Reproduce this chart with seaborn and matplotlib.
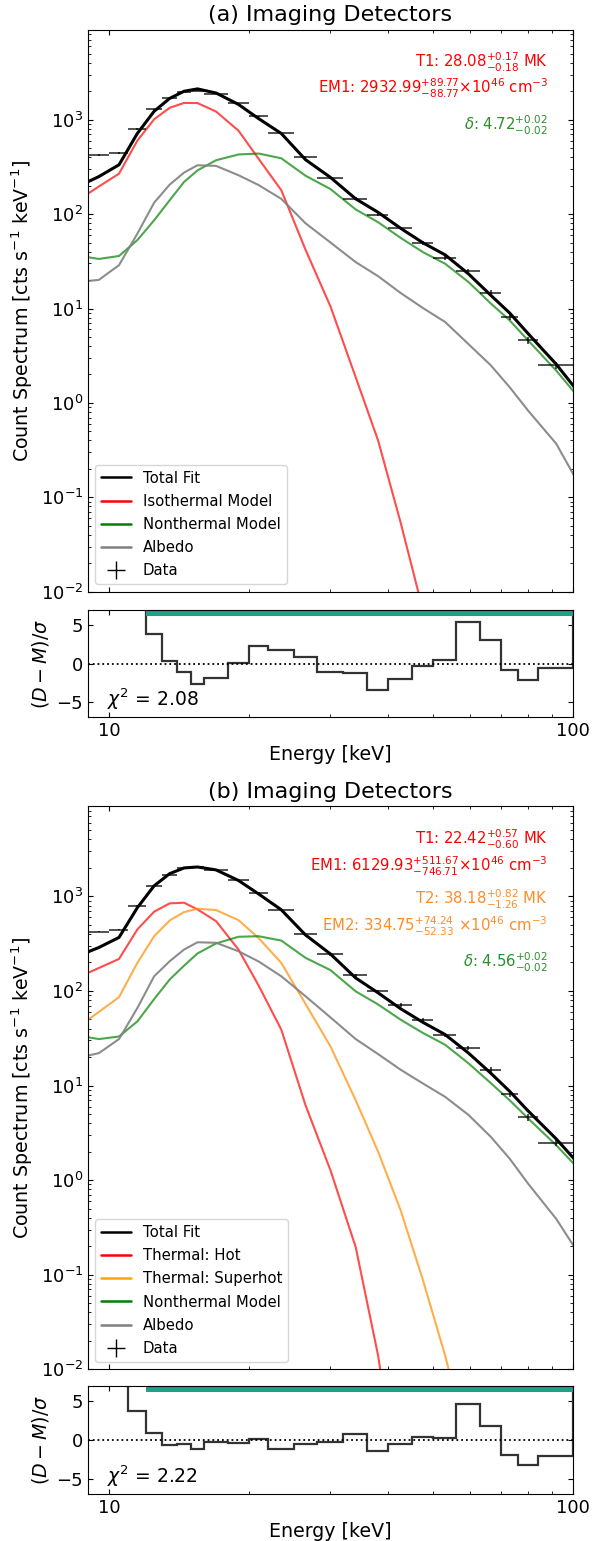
import numpy as np
import matplotlib
matplotlib.use("Agg")
import matplotlib.pyplot as plt
from matplotlib.lines import Line2D
from matplotlib.ticker import FixedLocator, FuncFormatter, NullFormatter, LogLocator
import seaborn as sns

sns.set_style("ticks")
plt.rcParams['font.family'] = ['DejaVu Sans']
plt.rcParams['xtick.direction'] = 'in'
plt.rcParams['ytick.direction'] = 'in'
plt.rcParams['xtick.top'] = True
plt.rcParams['ytick.right'] = True
plt.rcParams['mathtext.fontset'] = 'dejavusans'
for key in ['text.color', 'axes.labelcolor', 'axes.edgecolor', 'xtick.color', 'ytick.color']:
    plt.rcParams[key] = 'black'

# ---- data: STIX energy bins (keV) and observed count spectrum
edges = [9, 10, 11, 12, 13, 14, 15, 16, 18, 20, 22, 25, 28, 32, 36, 40, 45, 50, 56, 63, 70, 76, 84, 100]
counts = [425, 446, 798, 1284, 1700, 1975, 2030, 1880, 1495, 1090, 725, 400, 243, 146, 99, 71, 49.5, 34.3, 24.8, 14.7, 8.1, 4.6, 2.5]
count_err = [9, 9, 12, 16, 19, 21, 22, 20, 17, 14, 11, 8, 6, 4.5, 3.5, 2.8, 2.2, 1.7, 1.3, 0.9, 0.6, 0.35, 0.2]

# ---- model curves, evaluated at bin centres
e_model = [8.5, 9.5, 10.5, 11.5, 12.5, 13.5, 14.5, 15.5, 17, 19, 21, 23.5, 26.5, 30, 34, 38,
           42.5, 47.5, 53, 59.5, 66.5, 73, 80, 92, 110]

# panel (a)
iso_a = [137, 196, 268, 600, 1010, 1335, 1505, 1500, 1220, 765, 385, 179, 42, 10.5, 1.87, 0.40,
         0.054, 0.0063, 5e-4, 3e-5, 1.5e-6, 8e-8, 3e-9, 1e-11, 1e-15]
nth_a = [36.5, 33.5, 36, 53, 86, 140, 219, 290, 372, 428, 438, 390, 255, 184, 112, 82,
         56, 39.5, 29.8, 19.1, 11.3, 7.5, 4.6, 2.2, 0.77]
alb_a = [19, 20.1, 28.8, 62, 132, 205, 275, 329, 324, 258, 203, 145, 80, 50, 31, 22,
         14.6, 10.1, 7.2, 4.2, 2.5, 1.47, 0.83, 0.37, 0.077]
tot_a = [192.5, 249.6, 332.8, 715, 1228, 1680, 1999, 2119, 1916, 1451, 1026, 714, 377, 244.5, 145, 104.4,
         70.7, 49.6, 37, 23.3, 13.8, 8.97, 5.43, 2.57, 0.85]
res_a = [15, 15, 15, 3.9, 0.35, -1.05, -2.7, -1.9, 0.05, 2.3, 1.75, 0.8, -1.05, -1.3, -3.4, -2.0,
         -0.3, 0.45, 5.4, 3.07, -0.88, -2.2, -0.53]

# panel (b)
hot_b = [137, 175, 218, 447, 689, 843, 857, 728, 547, 274, 114, 39, 6.2, 1.27, 0.196, 0.014,
         4e-4, 8e-6, 1e-7, 5e-10, 1e-12, 3e-15, 1e-17, 1e-21, 1e-27]
sup_b = [40.5, 60, 86, 198, 379, 556, 682, 740, 716, 561, 362, 198, 73, 25.9, 7.0, 2.0,
         0.48, 0.087, 0.014, 0.0015, 1e-4, 6e-6, 2e-7, 1e-9, 1e-13]
nth_b = [34, 31, 33, 47.6, 82, 132, 185, 249, 318, 374, 379, 341, 224, 166, 99, 72,
         49.7, 35.9, 27, 17.2, 10.6, 7.0, 4.5, 2.34, 0.93]
alb_b = [19.5, 22, 31, 66, 143, 206, 274, 327, 323, 263, 205, 143, 88, 52.5, 31, 21.5,
         14.7, 10.5, 7.6, 4.9, 2.87, 1.69, 0.92, 0.39, 0.10]
tot_b = [231, 288, 368, 759, 1293, 1737, 1998, 2044, 1904, 1472, 1060, 721, 391, 245.7, 137.2, 95.5,
         64.9, 46.5, 34.6, 22.1, 13.5, 8.7, 5.4, 2.73, 1.03]
res_b = [15, 15, 3.7, 0.96, -0.7, -0.48, -1.13, -0.26, -0.35, 0.13, -1.17, -0.57, -0.3, 0.78, -1.39, -0.57,
         0.39, 0.26, 4.6, 1.87, -2.0, -3.26, -2.04]

fit_range = [12, 100]

lo = np.array(edges[:-1], dtype=float)
hi = np.array(edges[1:], dtype=float)
centres = (lo + hi) / 2
xerr = [centres - lo, hi - centres]


def draw_panel(ax, axr, title, comps, total, res, notes, chi2):
    for label, vals, col, lcol, a in comps:
        sns.lineplot(x=e_model, y=vals, ax=ax, color=col, alpha=a, lw=1.5)
    sns.lineplot(x=e_model, y=total, ax=ax, color='black', lw=2.2)
    ax.errorbar(centres, counts, xerr=xerr, yerr=count_err, fmt='none',
                ecolor='black', elinewidth=1.2, alpha=0.8)
    ax.set_xscale('log')
    ax.set_yscale('log')
    ax.set_xlim(9, 100)
    ax.set_ylim(1e-2, 9000)
    ax.set_title(title, fontsize=16)
    ax.set_ylabel('Count Spectrum [cts s$^{-1}$ keV$^{-1}$]', fontsize=13.7)
    ax.xaxis.set_major_formatter(NullFormatter())
    ax.xaxis.set_minor_formatter(NullFormatter())
    ax.yaxis.set_major_locator(LogLocator(base=10, numticks=10))
    ax.yaxis.set_minor_locator(LogLocator(base=10, subs=np.arange(2, 10), numticks=20))
    ax.tick_params(which='both', labelsize=13, top=True, right=True)

    handles = [Line2D([], [], color='black', lw=1.8, label='Total Fit')]
    for label, vals, col, lcol, a in comps:
        handles.append(Line2D([], [], color=lcol, lw=1.8, label=label))
    handles.append(Line2D([], [], color='black', marker='+', ls='none', markersize=13, label='Data'))
    ax.legend(handles=handles, loc='lower left', fontsize=10.7, labelspacing=0.55)

    for y, txt, col in notes:
        ax.text(0.948, y, txt, transform=ax.transAxes, ha='right', va='center', color=col, fontsize=10.7)

    # residuals
    axr.stairs(res + [15], edges + [120], baseline=None, color='#333333', lw=1.6)
    axr.fill_between(fit_range, 6.2, 7.2, color='#1fa187', lw=0)
    axr.axhline(0, color='black', ls=':', lw=1.3)
    axr.set_xscale('log')
    axr.set_xlim(9, 100)
    axr.set_ylim(-7, 7)
    axr.set_yticks([-5, 0, 5])
    axr.xaxis.set_major_locator(FixedLocator([10, 100]))
    axr.xaxis.set_major_formatter(FuncFormatter(lambda v, p: '%d' % v))
    axr.xaxis.set_minor_formatter(NullFormatter())
    axr.tick_params(which='both', labelsize=13, top=True, right=True)
    axr.set_ylabel(r'$(D-M)/\sigma$', fontsize=13.7)
    axr.set_xlabel('Energy [keV]', fontsize=13.7)
    axr.text(0.04, 0.1, r'$\chi^2$ = ' + chi2, transform=axr.transAxes, fontsize=13.5)


fig = plt.figure(figsize=(5.92, 15.41), dpi=100)
ax1 = fig.add_axes([0.1486, 0.6160, 0.8193, 0.3648])
ax1r = fig.add_axes([0.1486, 0.5347, 0.8193, 0.0694])
ax2 = fig.add_axes([0.1486, 0.1114, 0.8193, 0.3655])
ax2r = fig.add_axes([0.1486, 0.0305, 0.8193, 0.0701])

red_txt = 'red'
org_txt = '#ff8c26'
grn_txt = '#2b8f2b'

notes_a = [
    (0.942, r'T1: 28.08$^{+0.17}_{-0.18}$ MK', red_txt),
    (0.896, r'EM1: 2932.99$^{+89.77}_{-88.77}$$\times$10$^{46}$ cm$^{-3}$', red_txt),
    (0.830, r'$\delta$: 4.72$^{+0.02}_{-0.02}$', grn_txt),
]
notes_b = [
    (0.940, r'T1: 22.42$^{+0.57}_{-0.60}$ MK', red_txt),
    (0.893, r'EM1: 6129.93$^{+511.67}_{-746.71}$$\times$10$^{46}$ cm$^{-3}$', red_txt),
    (0.834, r'T2: 38.18$^{+0.82}_{-1.26}$ MK', org_txt),
    (0.787, r'EM2: 334.75$^{+74.24}_{-52.33}$ $\times$10$^{46}$ cm$^{-3}$', org_txt),
    (0.722, r'$\delta$: 4.56$^{+0.02}_{-0.02}$', grn_txt),
]

comps_a = [('Isothermal Model', iso_a, 'red', 'red', 0.7),
           ('Nonthermal Model', nth_a, 'green', 'green', 0.7),
           ('Albedo', alb_a, 'gray', 'gray', 0.9)]
comps_b = [('Thermal: Hot', hot_b, 'red', 'red', 0.7),
           ('Thermal: Superhot', sup_b, 'darkorange', 'orange', 0.7),
           ('Nonthermal Model', nth_b, 'green', 'green', 0.7),
           ('Albedo', alb_b, 'gray', 'gray', 0.9)]

draw_panel(ax1, ax1r, '(a) Imaging Detectors', comps_a, tot_a, res_a, notes_a, '2.08')
draw_panel(ax2, ax2r, '(b) Imaging Detectors', comps_b, tot_b, res_b, notes_b, '2.22')

fig.savefig('out.png', dpi=100)
